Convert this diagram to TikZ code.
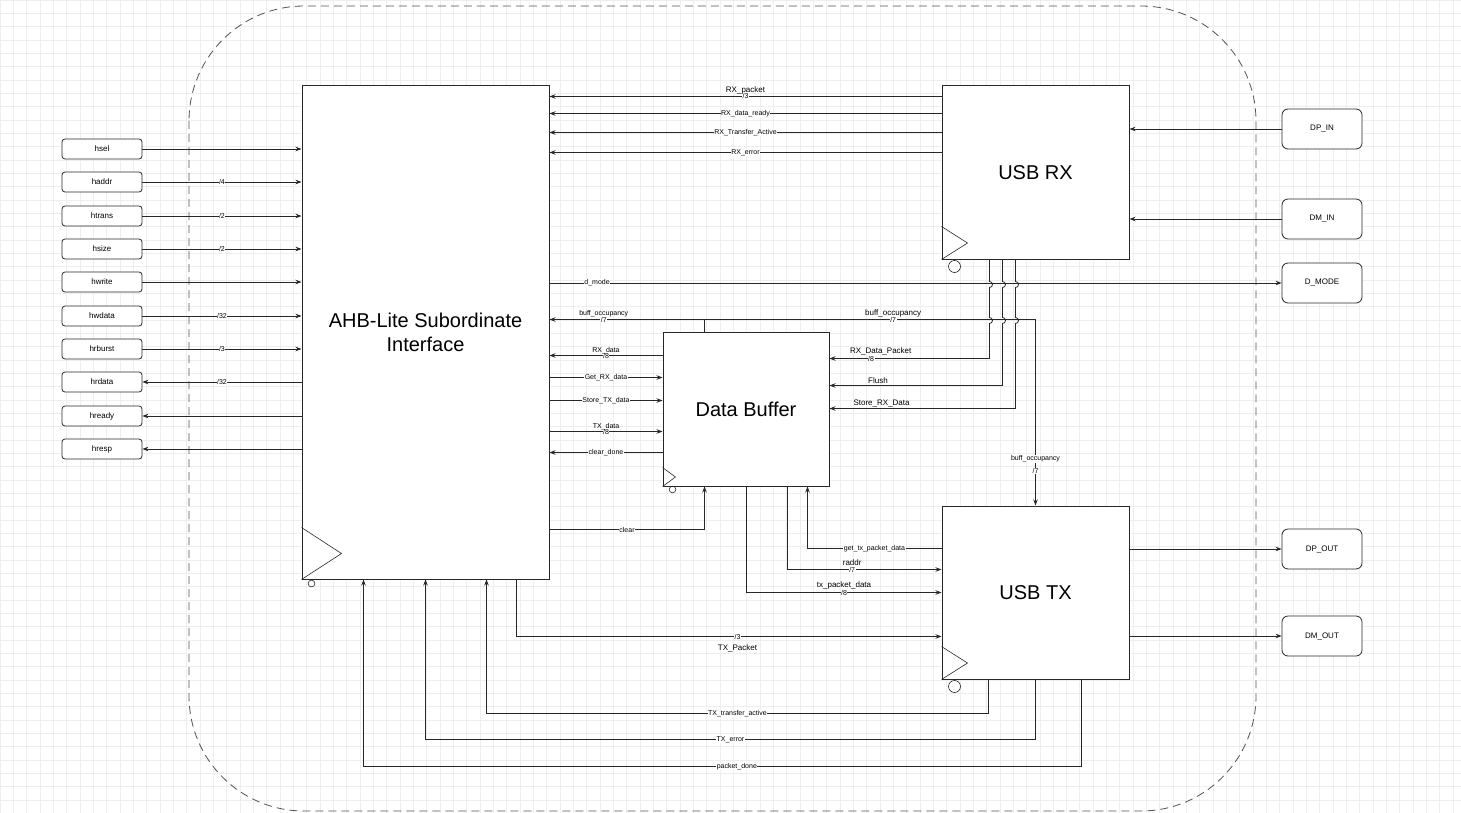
\documentclass[tikz,border=0pt]{standalone}
\usepackage{fontspec}
\setmainfont{Liberation Sans}
\usetikzlibrary{arrows.meta,calc}
\definecolor{edgegray}{RGB}{40,40,40}
\definecolor{gridgray}{RGB}{238,238,238}

\begin{document}
\begin{tikzpicture}[x=1pt,y=-1pt,
    blk/.style={draw=edgegray, line width=1pt, fill=white, inner sep=0pt, align=center, font=\fontsize{20}{24}\selectfont},
    pin/.style={draw=edgegray, line width=0.8pt, rounded corners=3pt, fill=white, minimum width=80pt, minimum height=20pt, inner sep=0pt, font=\fontsize{8}{9}\selectfont},
    port/.style={pin, rounded corners=6pt, minimum height=40pt},
    sig/.style={draw=edgegray, line width=0.8pt, -{Stealth[length=6pt,width=4.5pt]}},
    wire/.style={draw=edgegray, line width=0.8pt},
    clk/.style={draw=edgegray, line width=0.6pt},
    lbl/.style={font=\fontsize{7}{8}\selectfont, fill=white, inner sep=0.5pt},
    tag/.style={font=\fontsize{8}{9}\selectfont, inner sep=0.5pt},
    note/.style={font=\fontsize{7}{8}\selectfont, inner sep=0.5pt},
    jump/.style={start angle=90, end angle=-90, radius=3pt}]
  \useasboundingbox[fill=white] (0,0) rectangle (1461,813);
  % background grid
  \foreach \gx in {0,13.33,...,1461} \draw[gridgray, line width=0.5pt] (\gx,0) -- (\gx,813);
  \foreach \gy in {0,13.33,...,813} \draw[gridgray, line width=0.5pt] (0,\gy) -- (1461,\gy);
  % chip boundary
  \draw[edgegray!80, line width=0.8pt, dash pattern=on 8pt off 5pt, rounded corners=115pt] (189,6) rectangle (1256,811);

  % blocks
  \node[blk, minimum width=247pt, minimum height=493pt] (ahb) at (425.5,332.5) {AHB-Lite Subordinate\\Interface};
  \node[blk, minimum width=187pt, minimum height=173pt] (usbrx) at (1035.5,172.5) {USB RX};
  \node[blk, minimum width=187pt, minimum height=173pt] (usbtx) at (1035.5,592.5) {USB TX};
  \node[blk, minimum width=166pt, minimum height=154pt] (dbuf) at (746,409) {Data Buffer};

  % clock marks
  \draw[clk] (ahb.south west) -- ++(40,-26) -- ++(-40,-26);
  \draw[clk] ([xshift=10,yshift=-4]ahb.south west) circle[radius=3.4pt];
  \draw[clk] (usbrx.south west) -- ++(26,-16.5) -- ++(-26,-16.5);
  \draw[clk] ([xshift=13,yshift=-7]usbrx.south west) circle[radius=6pt];
  \draw[clk] (usbtx.south west) -- ++(26,-16.5) -- ++(-26,-16.5);
  \draw[clk] ([xshift=13,yshift=-7]usbtx.south west) circle[radius=6pt];
  \draw[clk] (dbuf.south west) -- ++(13,-9.5) -- ++(-13,-9.5);
  \draw[clk] ([xshift=10,yshift=-3]dbuf.south west) circle[radius=3.3pt];

  % AHB side pins
  \foreach \nm/\yy in {hsel/149, haddr/182, htrans/216, hsize/249, hwrite/282,
      hwdata/316, hrburst/349, hrdata/382, hready/416, hresp/449}
    \node[pin] (\nm) at (102,\yy) {\nm};
  % USB side pins
  \node[port] (dpin) at (1322,129) {DP\_IN};
  \node[port] (dmin) at (1322,219) {DM\_IN};
  \node[port] (dmode) at (1322,283) {D\_MODE};
  \node[port] (dpout) at (1322,549) {DP\_OUT};
  \node[port] (dmout) at (1322,636) {DM\_OUT};

  % bus signals
  \draw[sig] (hsel) -- (ahb.west |- hsel);
  \draw[sig] (haddr) -- (ahb.west |- haddr) node[lbl, midway] {/4};
  \draw[sig] (htrans) -- (ahb.west |- htrans) node[lbl, midway] {/2};
  \draw[sig] (hsize) -- (ahb.west |- hsize) node[lbl, midway] {/2};
  \draw[sig] (hwrite) -- (ahb.west |- hwrite);
  \draw[sig] (hwdata) -- (ahb.west |- hwdata) node[lbl, midway] {/32};
  \draw[sig] (hrburst) -- (ahb.west |- hrburst) node[lbl, midway] {/3};
  \draw[sig] (ahb.west |- hrdata) -- (hrdata) node[lbl, midway] {/32};
  \draw[sig] (ahb.west |- hready) -- (hready);
  \draw[sig] (ahb.west |- hresp) -- (hresp);

  % USB RX -> AHB
  \draw[sig] ([yshift=-11]usbrx.north west) -- ([yshift=-11]ahb.north east)
    node[lbl, midway] {/3} node[tag, midway, above=1.5pt] {RX\_packet};
  \draw[sig] ([yshift=-28]usbrx.north west) -- ([yshift=-28]ahb.north east) node[lbl, midway] {RX\_data\_ready};
  \draw[sig] ([yshift=-47]usbrx.north west) -- ([yshift=-47]ahb.north east) node[lbl, midway] {RX\_Transfer\_Active};
  \draw[sig] ([yshift=-67]usbrx.north west) -- ([yshift=-67]ahb.north east) node[lbl, midway] {RX\_error};
  \draw[sig] (dpin) -- (usbrx.east |- dpin);
  \draw[sig] (dmin) -- (usbrx.east |- dmin);
  \draw[sig] (ahb.east |- dmode) -- (dmode) node[lbl, pos=0.065] {d\_mode};

  % buffer occupancy
  \coordinate (occ) at ([xshift=42,yshift=12]dbuf.north west);
  \draw[wire] ([xshift=42]dbuf.north west) -- (occ);
  \draw[sig] (occ) -- (occ -| ahb.east)
    node[lbl, pos=0.65] {/7} node[note, pos=0.65, above=1.5pt] {buff\_occupancy};
  \draw[sig] (occ) -| (usbtx.north)
    node[lbl, pos=0.285] {/7} node[tag, pos=0.285, above=1.5pt] {buff\_occupancy}
    node[lbl, pos=0.875] {buff\_occupancy} node[lbl, pos=0.908] {/7};

  % AHB <-> Data Buffer
  \coordinate (rxdat) at ([yshift=-24]dbuf.north west);
  \coordinate (getrx) at ([yshift=-46]dbuf.north west);
  \coordinate (sttx) at ([yshift=-69]dbuf.north west);
  \coordinate (txdat) at ([yshift=-100]dbuf.north west);
  \coordinate (clrdn) at ([yshift=-121]dbuf.north west);
  \draw[sig] (rxdat) -- (rxdat -| ahb.east)
    node[lbl, midway] {/8} node[note, midway, above=1pt] {RX\_data};
  \draw[sig] (getrx -| ahb.east) -- (getrx) node[lbl, midway] {Get\_RX\_data};
  \draw[sig] (sttx -| ahb.east) -- (sttx) node[lbl, midway] {Store\_TX\_data};
  \draw[sig] (txdat -| ahb.east) -- (txdat)
    node[lbl, midway] {/8} node[note, midway, above=1pt] {TX\_data};
  \draw[sig] (clrdn) -- (clrdn -| ahb.east) node[lbl, midway] {clear\_done};
  \draw[sig] ([yshift=50]ahb.south east) -| ([xshift=42]dbuf.south west) node[lbl, pos=0.25] {clear};

  % USB RX -> Data Buffer (jumping over d_mode and buff_occupancy)
  \coordinate (rxpkt) at ([yshift=-27]dbuf.north east);
  \coordinate (flush) at ([yshift=-54]dbuf.north east);
  \coordinate (strx) at ([yshift=-77]dbuf.north east);
  \draw[sig] ([xshift=48]usbrx.south west) -- ++(0,22) arc[jump] -- ++(0,30) arc[jump] |- (rxpkt)
    node[lbl, pos=0.87] {/8} node[tag, pos=0.84, above=2.5pt] {RX\_Data\_Packet};
  \draw[sig] ([xshift=61]usbrx.south west) -- ++(0,22) arc[jump] -- ++(0,30) arc[jump] |- (flush)
    node[tag, pos=0.86, above=1pt] {Flush};
  \draw[sig] ([xshift=74]usbrx.south west) -- ++(0,22) arc[jump] -- ++(0,30) arc[jump] |- (strx)
    node[tag, pos=0.86, above=1pt] {Store\_RX\_Data};

  % Data Buffer <-> USB TX
  \draw[sig] ([yshift=-43]usbtx.north west) -| ([xshift=145]dbuf.south west)
    node[lbl, pos=0.25] {get\_tx\_packet\_data};
  \draw[sig] ([xshift=125]dbuf.south west) |- ([yshift=-64]usbtx.north west)
    node[lbl, pos=0.71] {/7} node[tag, pos=0.71, above=3pt] {raddr};
  \draw[sig] ([xshift=84]dbuf.south west) |- ([yshift=-87]usbtx.north west)
    node[lbl, pos=0.75] {/8} node[tag, pos=0.75, above=2pt] {tx\_packet\_data};

  % AHB <-> USB TX
  \draw[sig] ([xshift=215]ahb.south west) |- ([yshift=43]usbtx.south west)
    node[lbl, pos=0.76] {/3} node[tag, pos=0.76, below=7pt] {TX\_Packet};
  \draw[sig] ([xshift=47]usbtx.south west) -- ++(0,34) -| ([xshift=185]ahb.south west)
    node[lbl, pos=0.25] {TX\_transfer\_active};
  \draw[sig] (usbtx.south) -- ++(0,60) -| ([xshift=124]ahb.south west)
    node[lbl, pos=0.25] {TX\_error};
  \draw[sig] ([xshift=140]usbtx.south west) -- ++(0,87) -| ([xshift=62]ahb.south west)
    node[lbl, pos=0.24] {packet\_done};
  \draw[sig] (usbtx.east |- dpout) -- (dpout);
  \draw[sig] (usbtx.east |- dmout) -- (dmout);
\end{tikzpicture}
\end{document}
